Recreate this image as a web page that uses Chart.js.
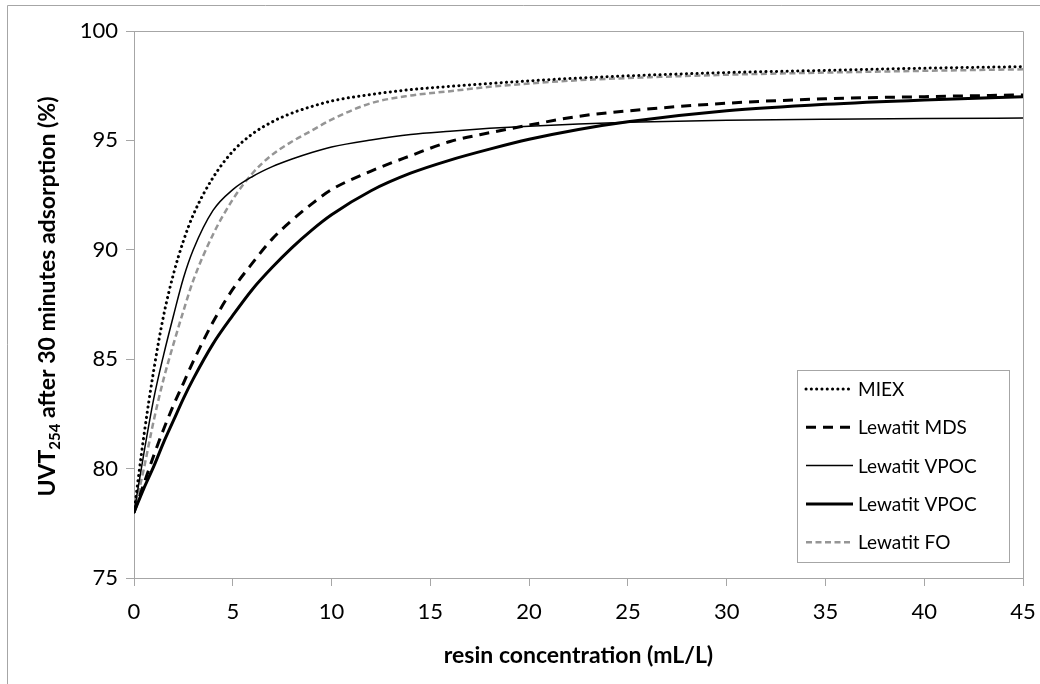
<!DOCTYPE html>
<html>
<head>
<meta charset="utf-8">
<script src="https://cdn.jsdelivr.net/npm/chart.js@4.4.0/dist/chart.umd.min.js"></script>
<style>
  html, body { margin: 0; padding: 0; background: #fff; }
  #wrap { width: 1040px; height: 684px; }
</style>
</head>
<body>
<div id="wrap"><canvas id="uvtChart" width="1040" height="684"></canvas></div>
<script>
// resin concentration (mL/L)
const concentration = [0, 0.5, 1, 1.5, 2, 2.5, 3, 4, 5, 6, 7, 8, 9, 10, 12, 14, 16, 18, 20, 22.5, 25, 30, 35, 40, 45];
// UVT254 after 30 min (%)
const miex      = [78, 81.5, 84.5, 87.0, 88.9, 90.4, 91.6, 93.3, 94.5, 95.3, 95.85, 96.25, 96.55, 96.8, 97.1, 97.32, 97.47, 97.6, 97.72, 97.85, 97.95, 98.1, 98.2, 98.3, 98.37];
const mds       = [78, 79.3, 80.6, 81.8, 82.9, 83.9, 84.9, 86.7, 88.2, 89.4, 90.5, 91.35, 92.1, 92.75, 93.6, 94.3, 94.95, 95.35, 95.7, 96.1, 96.35, 96.7, 96.9, 97.0, 97.08];
const vpocThin  = [78, 80.7, 83.2, 85.2, 87.0, 88.7, 90.0, 91.8, 92.75, 93.35, 93.8, 94.15, 94.45, 94.7, 95.02, 95.27, 95.42, 95.55, 95.65, 95.75, 95.83, 95.92, 95.97, 96.0, 96.02];
const vpocThick = [78, 79.1, 80.1, 81.2, 82.2, 83.2, 84.1, 85.7, 87.0, 88.2, 89.2, 90.1, 90.9, 91.6, 92.7, 93.5, 94.1, 94.6, 95.05, 95.5, 95.85, 96.35, 96.65, 96.85, 97.0];
const fo        = [78, 80.0, 82.2, 84.1, 85.7, 87.2, 88.6, 90.7, 92.3, 93.5, 94.35, 94.95, 95.45, 95.95, 96.7, 97.05, 97.25, 97.45, 97.6, 97.75, 97.85, 98.0, 98.1, 98.18, 98.25];

const seriesNames = ['MIEX', 'Lewatit MDS', 'Lewatit VPOC', 'Lewatit VPOC', 'Lewatit FO'];
const yTicks = [75, 80, 85, 90, 95, 100];
const xTicks = [0, 5, 10, 15, 20, 25, 30, 35, 40, 45];

const toPoints = ys => concentration.map((x, i) => ({ x: x, y: ys[i] }));
const axisGrey = '#a6a6a6';

// white page + outer frame + plot border
const frame = {
  id: 'frame',
  beforeDraw(chart) {
    const ctx = chart.ctx;
    ctx.save();
    ctx.fillStyle = '#fff';
    ctx.fillRect(0, 0, chart.width, chart.height);
    ctx.strokeStyle = axisGrey;
    ctx.lineWidth = 1;
    ctx.beginPath();
    ctx.moveTo(7.5, chart.height);
    ctx.lineTo(7.5, 5.5);
    ctx.lineTo(chart.width, 5.5);
    ctx.stroke();
    ctx.restore();
  },
  afterDatasetsDraw(chart) {
    const a = chart.chartArea, ctx = chart.ctx;
    ctx.save();
    ctx.strokeStyle = axisGrey;
    ctx.lineWidth = 1;
    ctx.beginPath();
    ctx.moveTo(Math.round(a.left) + 0.5, Math.round(a.top) + 0.5);
    ctx.lineTo(Math.round(a.right) + 0.5, Math.round(a.top) + 0.5);
    ctx.lineTo(Math.round(a.right) + 0.5, Math.round(a.bottom) + 0.5);
    ctx.stroke();
    ctx.restore();
  }
};

// axis titles (y title needs a subscript)
const axisTitles = {
  id: 'axisTitles',
  afterDraw(chart) {
    const ctx = chart.ctx, a = chart.chartArea;
    ctx.save();
    ctx.fillStyle = '#000';
    ctx.font = 'bold 23px Lato';
    ctx.textAlign = 'center';
    ctx.textBaseline = 'middle';
    ctx.fillText('resin concentration (mL/L)', (a.left + a.right) / 2, 656);

    const parts = [
      { t: 'UVT', f: 'bold 23px Lato', dy: 0 },
      { t: '254', f: 'bold 15px Lato', dy: 5 },
      { t: ' after 30 minutes adsorption (%)', f: 'bold 23px Lato', dy: 0 }
    ];
    let total = 0;
    parts.forEach(p => { ctx.font = p.f; p.w = ctx.measureText(p.t).width; total += p.w; });
    ctx.translate(47, (a.top + a.bottom) / 2 - 8);
    ctx.rotate(-Math.PI / 2);
    ctx.textAlign = 'left';
    ctx.textBaseline = 'alphabetic';
    let x = -total / 2;
    parts.forEach(p => {
      ctx.font = p.f;
      ctx.fillText(p.t, x, 8 + p.dy);
      x += p.w;
    });
    ctx.restore();
  }
};

// legend box in the lower right of the plot
const boxLegend = {
  id: 'boxLegend',
  afterDraw(chart) {
    const ctx = chart.ctx;
    const left = 797, right = 1009, top = 370, bottom = 562;
    ctx.save();
    ctx.fillStyle = '#fff';
    ctx.fillRect(left, top, right - left, bottom - top);
    ctx.strokeStyle = axisGrey;
    ctx.lineWidth = 1;
    ctx.strokeRect(left + 0.5, top + 0.5, right - left, bottom - top);
    chart.data.datasets.forEach((ds, i) => {
      const y = 389 + i * 38.3;
      ctx.beginPath();
      ctx.strokeStyle = ds.borderColor;
      ctx.lineWidth = ds.borderWidth;
      ctx.lineCap = ds.borderCapStyle || 'butt';
      ctx.setLineDash(ds.borderDash || []);
      ctx.moveTo(806, y);
      ctx.lineTo(853, y);
      ctx.stroke();
      ctx.setLineDash([]);
      ctx.fillStyle = '#000';
      ctx.font = '19px Lato';
      ctx.textAlign = 'left';
      ctx.textBaseline = 'middle';
      ctx.fillText(ds.label, 858, y + 1);
    });
    ctx.restore();
  }
};

const lineSet = (label, ys, color, width, dash, cap) => ({
  label: label,
  data: toPoints(ys),
  borderColor: color,
  borderWidth: width,
  borderDash: dash,
  borderCapStyle: cap || 'butt',
  pointRadius: 0,
  fill: false,
  cubicInterpolationMode: 'monotone'
});

new Chart(document.getElementById('uvtChart'), {
  type: 'line',
  data: {
    datasets: [
      lineSet(seriesNames[0], miex, '#000', 3, [0.1, 5.2], 'round'),
      lineSet(seriesNames[1], mds, '#000', 3, [10, 7]),
      lineSet(seriesNames[2], vpocThin, '#000', 1.5, []),
      lineSet(seriesNames[3], vpocThick, '#000', 3, []),
      lineSet(seriesNames[4], fo, '#959595', 2.5, [6, 3.5])
    ]
  },
  options: {
    responsive: false,
    animation: false,
    devicePixelRatio: 1,
    layout: { padding: { top: 31, right: 17, left: 0, bottom: 0 } },
    plugins: { legend: { display: false }, tooltip: { enabled: false } },
    scales: {
      x: {
        type: 'linear',
        min: 0,
        max: 45,
        afterBuildTicks: s => { s.ticks = xTicks.map(v => ({ value: v })); },
        afterFit: s => { s.height = 684 - 578; s.paddingLeft = 0; s.paddingRight = 0; },
        grid: { drawOnChartArea: false, drawTicks: true, tickLength: 8, color: axisGrey },
        border: { display: true, color: axisGrey, width: 1 },
        ticks: { color: '#000', font: { family: 'Lato', size: 22 }, padding: 13, maxRotation: 0 }
      },
      y: {
        min: 75,
        max: 100,
        afterBuildTicks: s => { s.ticks = yTicks.map(v => ({ value: v })); },
        afterFit: s => { s.width = 134; },
        grid: { drawOnChartArea: false, drawTicks: true, tickLength: 8, color: axisGrey },
        border: { display: true, color: axisGrey, width: 1 },
        ticks: { color: '#000', font: { family: 'Lato', size: 22 }, padding: 8 }
      }
    }
  },
  plugins: [frame, axisTitles, boxLegend]
});
</script>
</body>
</html>
